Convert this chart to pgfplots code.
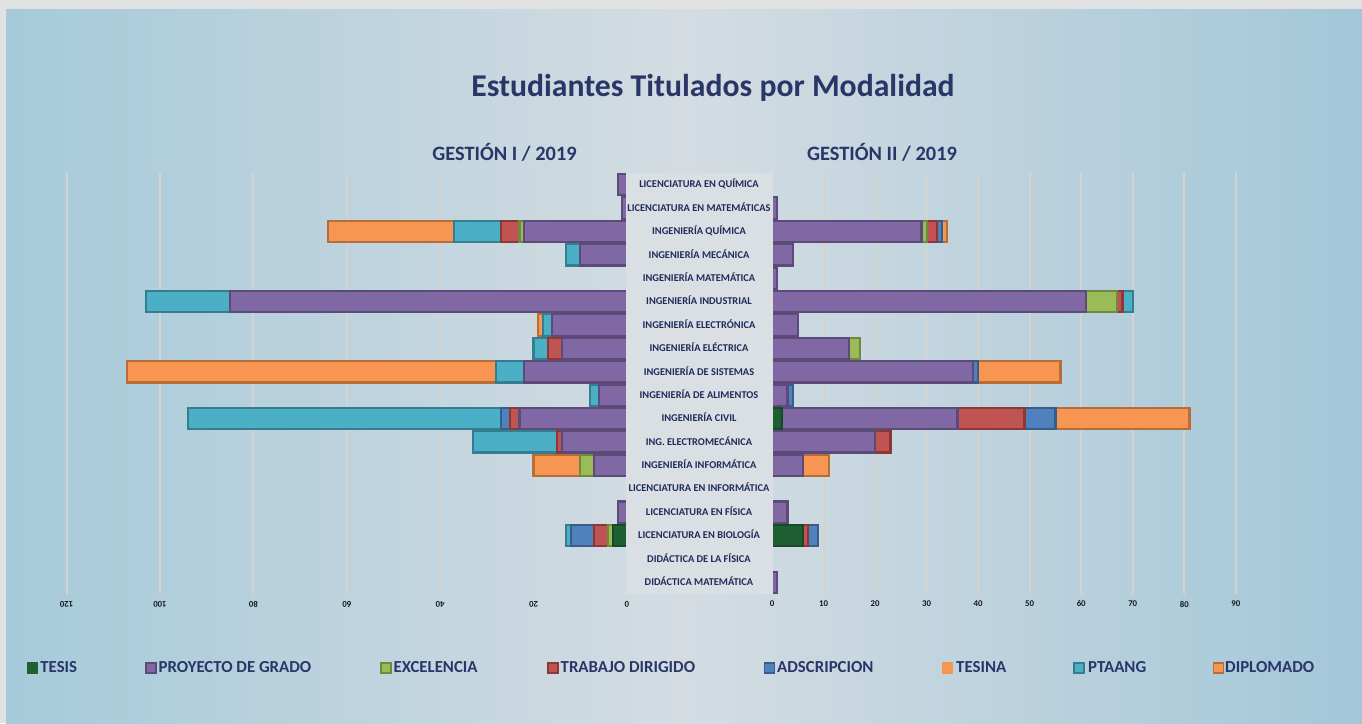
\documentclass[border=0pt]{standalone}
\usepackage{pgfplots}
\usepackage{pgfplotstable}
\pgfplotsset{compat=1.18}
\usepackage{fontspec}
\setmainfont{Carlito}

\definecolor{framec}{RGB}{224,225,225}
\definecolor{bgL}{RGB}{166,202,218}
\definecolor{bgM}{RGB}{212,220,226}
\definecolor{bgR}{RGB}{163,199,217}
\definecolor{panelc}{RGB}{218,223,228}
\definecolor{gridc}{RGB}{214,211,206}
\definecolor{titlec}{RGB}{40,54,104}
\definecolor{catc}{RGB}{31,43,90}
\definecolor{tickc}{RGB}{25,25,30}

\definecolor{cTes}{RGB}{31,95,51}   \definecolor{cTesB}{RGB}{24,74,40}
\definecolor{cPro}{RGB}{128,104,164} \definecolor{cProB}{RGB}{92,74,120}
\definecolor{cExc}{RGB}{155,187,89}  \definecolor{cExcB}{RGB}{113,137,63}
\definecolor{cTd}{RGB}{192,84,82}    \definecolor{cTdB}{RGB}{140,56,54}
\definecolor{cAds}{RGB}{79,129,189}  \definecolor{cAdsB}{RGB}{56,93,138}
\definecolor{cTsn}{RGB}{247,150,82}  \definecolor{cTsnB}{RGB}{247,150,82}
\definecolor{cPta}{RGB}{75,175,198}  \definecolor{cPtaB}{RGB}{53,125,145}
\definecolor{cDip}{RGB}{247,150,82}  \definecolor{cDipB}{RGB}{182,109,56}

% Gestion I / 2019
\pgfplotstableread{
row tes proy exc td ads tsn pta dip
0  0 2  0 0 0 0 0  0
1  0 1  0 0 0 0 0  0
2  0 22 1 4 0 0 10 27
3  0 10 0 0 0 0 3  0
4  0 0  0 0 0 0 0  0
5  0 85 0 0 0 0 18 0
6  0 16 0 0 0 0 2  1
7  0 14 0 3 0 0 3  0
8  0 22 0 0 0 0 6  79
9  0 6  0 0 0 0 2  0
10 0 23 0 2 2 0 67 0
11 0 14 0 1 0 0 18 0
12 0 7  3 0 0 0 0  10
13 0 0  0 0 0 0 0  0
14 0 2  0 0 0 0 0  0
15 3 0  1 3 5 0 1  0
16 0 0  0 0 0 0 0  0
17 0 0  0 0 0 0 0  0
}\tabL

% Gestion II / 2019
\pgfplotstableread{
row tes proy exc td ads tsn pta dip
0  0 0  0 0  0 0 0 0
1  0 1  0 0  0 0 0 0
2  0 29 1 2  1 0 0 1
3  0 4  0 0  0 0 0 0
4  0 1  0 0  0 0 0 0
5  0 61 6 1  0 0 2 0
6  0 5  0 0  0 0 0 0
7  0 15 2 0  0 0 0 0
8  0 39 0 0  1 0 0 16
9  0 3  0 0  1 0 0 0
10 2 34 0 13 6 0 0 26
11 0 20 0 3  0 0 0 0
12 0 6  0 0  0 0 0 5
13 0 0  0 0  0 0 0 0
14 0 3  0 0  0 0 0 0
15 6 0  0 1  2 0 0 0
16 0 0  0 0  0 0 0 0
17 0 1  0 0  0 0 0 0
}\tabR

\pgfplotsset{
  common/.style={
    scale only axis, height=421.1pt,
    xbar stacked, bar width=0.91,
    ymin=-0.5, ymax=17.5, y dir=reverse, enlargelimits=false,
    ytick=\empty,
    axis line style={draw=none}, tick style={draw=none}, major tick length=0pt,
    xmajorgrids, grid style={line width=2pt, color=gridc},
    tick label style={font=\fontsize{8.8}{10}\selectfont\bfseries, text=tickc},
    /pgf/number format/assume math mode=true,
    every axis plot/.append style={line width=2.2pt},
  },
}

\newcommand{\bars}[1]{%
  \addplot[fill=cTes, draw=cTesB] table[x=tes, y=row]{#1};
  \addplot[fill=cPro, draw=cProB] table[x=proy, y=row]{#1};
  \addplot[fill=cExc, draw=cExcB] table[x=exc, y=row]{#1};
  \addplot[fill=cTd,  draw=cTdB]  table[x=td,  y=row]{#1};
  \addplot[fill=cAds, draw=cAdsB] table[x=ads, y=row]{#1};
  \addplot[fill=cTsn, draw=cTsnB] table[x=tsn, y=row]{#1};
  \addplot[fill=cPta, draw=cPtaB] table[x=pta, y=row]{#1};
  \addplot[fill=cDip, draw=cDipB] table[x=dip, y=row]{#1};
}

\begin{document}
\begin{tikzpicture}
\fill[framec] (0pt,0pt) rectangle (1362pt,-723pt);
\shade[left color=bgL, right color=bgR, middle color=bgM] (6pt,-9pt) rectangle (1362pt,-723pt);
\useasboundingbox (0pt,0pt) rectangle (1362pt,-723pt);

% title and headers
\node[anchor=base, inner sep=0pt, font=\fontsize{31.7}{36}\selectfont\bfseries, text=titlec]
  at (712.9pt,-96.7pt) {Estudiantes Titulados por Modalidad};
\node[anchor=base, inner sep=0pt, font=\fontsize{20.4}{24}\selectfont\bfseries, text=titlec]
  at (504.5pt,-160pt) {GESTIÓN I / 2019};
\node[anchor=base, inner sep=0pt, font=\fontsize{20.4}{24}\selectfont\bfseries, text=titlec]
  at (882pt,-160pt) {GESTIÓN II / 2019};

% left axis: Gestion I
\begin{axis}[common, at={(346.8pt,-383.45pt)}, anchor=center, width=560.4pt,
  x dir=reverse, xmin=0, xmax=120, xtick={0,20,...,120},
  xticklabel style={rotate=180, anchor=center, yshift=10pt}]
\bars{\tabL}
\end{axis}

% right axis: Gestion II
\begin{axis}[common, at={(1003.9pt,-383.45pt)}, anchor=center, width=463.8pt,
  xmin=0, xmax=90, xtick={0,10,...,90},
  xticklabel style={anchor=center, yshift=-10pt}]
\bars{\tabR}
\end{axis}

% category panel and labels
\fill[panelc] (626pt,-172.9pt) rectangle (773.3pt,-594pt);
\foreach \name [count=\i from 0] in {LICENCIATURA EN QUÍMICA, LICENCIATURA EN MATEMÁTICAS,
  INGENIERÍA QUÍMICA, INGENIERÍA MECÁNICA, INGENIERÍA MATEMÁTICA, INGENIERÍA INDUSTRIAL,
  INGENIERÍA ELECTRÓNICA, INGENIERÍA ELÉCTRICA, INGENIERÍA DE SISTEMAS, INGENIERÍA DE ALIMENTOS,
  INGENIERÍA CIVIL, ING. ELECTROMECÁNICA, INGENIERÍA INFORMÁTICA, LICENCIATURA EN INFORMÁTICA,
  LICENCIATURA EN FÍSICA, LICENCIATURA EN BIOLOGÍA, DIDÁCTICA DE LA FÍSICA, DIDÁCTICA MATEMÁTICA}
{
  \node[anchor=base, inner sep=0pt, font=\fontsize{10.4}{12}\selectfont\bfseries, text=catc]
    at (699pt, {-(187.9+23.39*\i)*1pt}) {\name};
}

% legend
\foreach \sx/\tx/\fc/\bc/\lab in {
  26.8/40.2/cTes/cTes/TESIS,
  145/158.5/cPro/cProB/PROYECTO DE GRADO,
  380.4/393.5/cExc/cExcB/EXCELENCIA,
  547/560.5/cTd/cTdB/TRABAJO DIRIGIDO,
  763.5/777/cAds/cAdsB/ADSCRIPCION,
  941.7/956/cTsn/cTsn/TESINA,
  1073.3/1088/cPta/cPtaB/PTAANG,
  1212.5/1225/cDip/cDipB/DIPLOMADO}
{
  \filldraw[fill=\fc, draw=\bc, line width=1.5pt] (\sx pt+0.75pt,-663pt) rectangle (\sx pt+10.75pt,-673pt);
  \node[anchor=base west, inner sep=0pt, font=\fontsize{16.8}{20}\selectfont\bfseries, text=titlec]
    at (\tx pt,-672.3pt) {\lab};
}
\end{tikzpicture}
\end{document}
